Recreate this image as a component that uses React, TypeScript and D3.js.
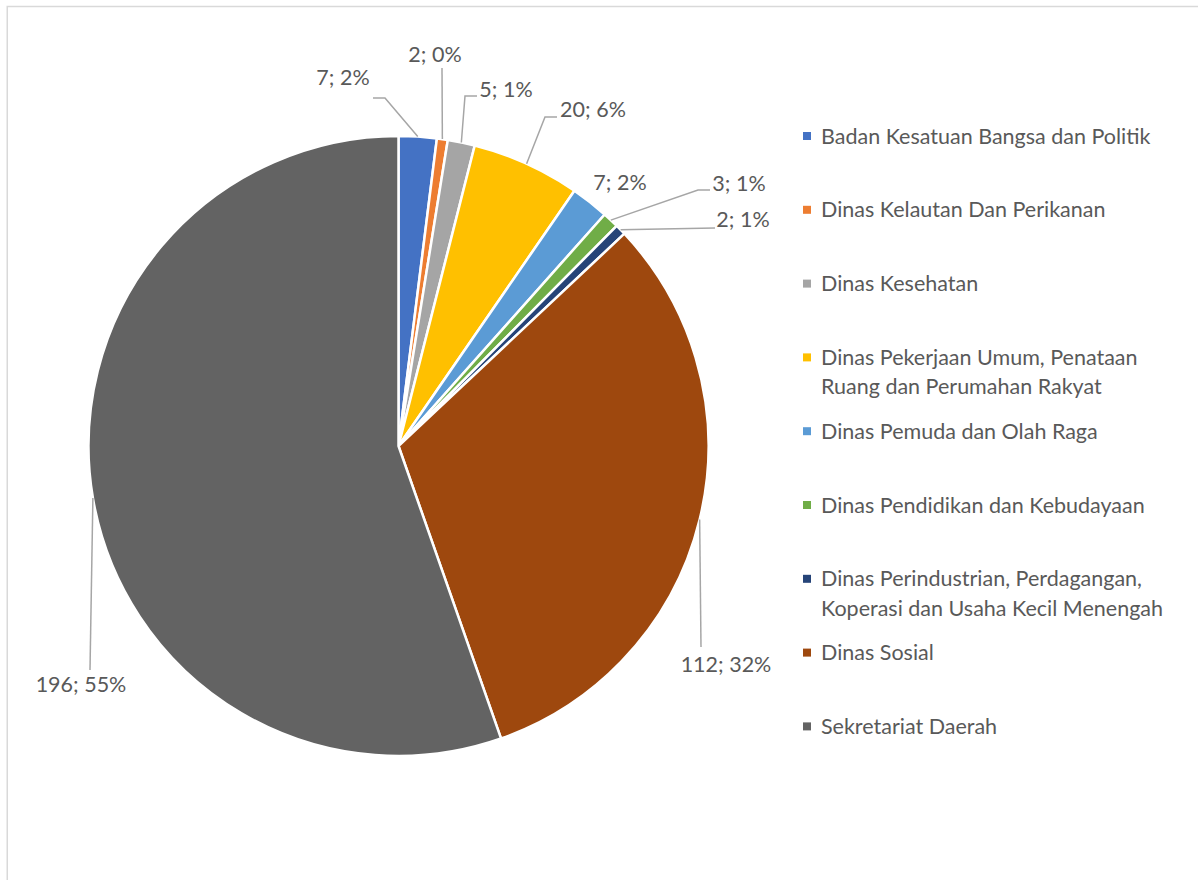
import React from "react";
import * as d3 from "d3";

const categories = [
  "Badan Kesatuan Bangsa dan Politik",
  "Dinas Kelautan Dan Perikanan",
  "Dinas Kesehatan",
  "Dinas Pekerjaan Umum, Penataan Ruang dan Perumahan Rakyat",
  "Dinas Pemuda dan Olah Raga",
  "Dinas Pendidikan dan Kebudayaan",
  "Dinas Perindustrian, Perdagangan, Koperasi dan Usaha Kecil Menengah",
  "Dinas Sosial",
  "Sekretariat Daerah",
];
const values = [7, 2, 5, 20, 7, 3, 2, 112, 196];
const percentLabels = ["2%", "0%", "1%", "6%", "2%", "1%", "1%", "32%", "55%"];
const legendLines = [
  ["Badan Kesatuan Bangsa dan Politik"],
  ["Dinas Kelautan Dan Perikanan"],
  ["Dinas Kesehatan"],
  ["Dinas Pekerjaan Umum, Penataan", "Ruang dan Perumahan Rakyat"],
  ["Dinas Pemuda dan Olah Raga"],
  ["Dinas Pendidikan dan Kebudayaan"],
  ["Dinas Perindustrian, Perdagangan,", "Koperasi dan Usaha Kecil Menengah"],
  ["Dinas Sosial"],
  ["Sekretariat Daerah"],
];
const colors = [
  "#4472C4", "#ED7D31", "#A5A5A5", "#FFC000", "#5B9BD5",
  "#70AD47", "#264478", "#9E480E", "#636363",
];

// layout of data labels: label center x, baseline y, leader points (after arc point)
const labelLayout: { x: number; y: number; leader: [number, number][] | null }[] = [
  { x: 343, y: 85, leader: [[385, 98], [373, 98]] },
  { x: 435, y: 62, leader: [[442, 68]] },
  { x: 506, y: 97, leader: [[465, 96], [477, 96]] },
  { x: 593, y: 117, leader: [[545, 117], [557, 117]] },
  { x: 620, y: 190, leader: null },
  { x: 739, y: 191, leader: [[698, 190], [710, 190]] },
  { x: 743, y: 227, leader: [[715, 228]] },
  { x: 726, y: 672, leader: [[701, 647]] },
  { x: 81, y: 692, leader: [[90, 670]] },
];

const W = 1198;
const H = 880;
const cx = 398.5;
const cy = 446;
const R = 310;
const FONT = "Lato, 'Open Sans', sans-serif";
const FS = 21.5;
const TEXT = "#595959";

export default function App() {
  const pie = d3.pie<number>().sort(null).value((d) => d)(values);
  const arc = d3.arc<d3.PieArcDatum<number>>().innerRadius(0).outerRadius(R);

  const legendX = 803;
  const legendY0 = 136;
  const legendStep = 73.8;

  return (
    <svg
      width={W}
      height={H}
      style={{ position: "absolute", left: 0, top: 0, background: "#fff" }}
      fontFamily={FONT}
    >
      <rect x={0} y={0} width={W} height={H} fill="#fff" />
      <rect x={7.25} y={6.5} width={1400} height={1000} fill="none" stroke="#d9d9d9" strokeWidth={1.5} />
      <g transform={`translate(${cx},${cy})`}>
        {pie.map((p, i) => (
          <path key={i} d={arc(p) || ""} fill={colors[i]} stroke="#fff" strokeWidth={2.5} strokeLinejoin="round" />
        ))}
      </g>
      {pie.map((p, i) => {
        const L = labelLayout[i];
        const mid = (p.startAngle + p.endAngle) / 2;
        const ax = cx + R * Math.sin(mid);
        const ay = cy - R * Math.cos(mid);
        const pts: [number, number][] = L.leader ? [[ax, ay], ...L.leader] : [];
        return (
          <g key={i}>
            {L.leader && (
              <path
                d={d3.line()(pts) || ""}
                fill="none"
                stroke="#a6a6a6"
                strokeWidth={1.5}
              />
            )}
            <text x={L.x} y={L.y} textAnchor="middle" fontSize={FS} fill={TEXT}>
              {`${values[i]}; ${percentLabels[i]}`}
            </text>
          </g>
        );
      })}
      <g>
        {categories.map((c, i) => {
          const y = legendY0 + i * legendStep;
          return (
            <g key={c}>
              <rect x={legendX} y={y - 4} width={8} height={8} fill={colors[i]} />
              {legendLines[i].map((ln, j) => (
                <text key={j} x={821} y={y + 7.5 + j * 29.5} fontSize={FS} fill={TEXT}>
                  {ln}
                </text>
              ))}
            </g>
          );
        })}
      </g>
    </svg>
  );
}
